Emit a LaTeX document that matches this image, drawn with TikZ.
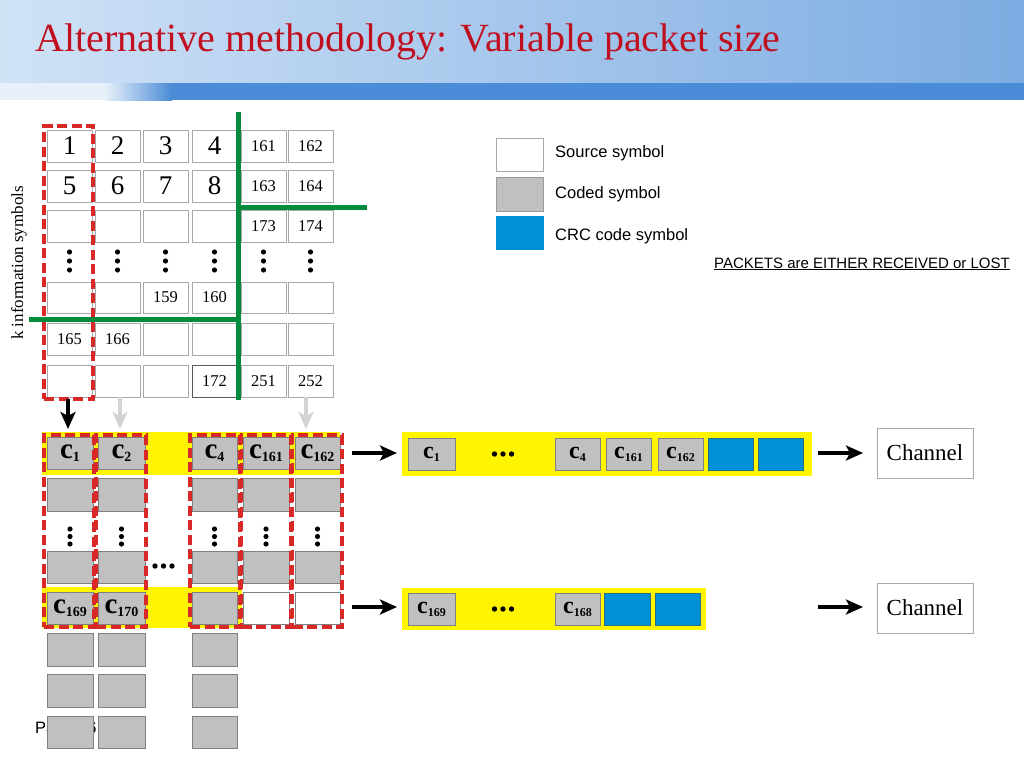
\documentclass[tikz,border=0pt]{standalone}
\usepackage{fontspec}
\setmainfont{Liberation Serif}
\newfontfamily\arialf{Liberation Sans}
\usetikzlibrary{arrows.meta}
\definecolor{titlered}{RGB}{192,16,32}
\definecolor{hdrL}{RGB}{208,226,246}
\definecolor{hdrR}{RGB}{124,172,226}
\definecolor{bandB}{RGB}{74,140,216}
\definecolor{bandL}{RGB}{232,240,249}
\definecolor{gridgray}{RGB}{168,168,168}
\definecolor{codegray}{RGB}{192,192,192}
\definecolor{codeedge}{RGB}{128,128,128}
\definecolor{crcblue}{RGB}{0,144,216}
\definecolor{crcedge}{RGB}{40,110,130}
\definecolor{ylw}{RGB}{255,245,0}
\definecolor{redd}{RGB}{216,40,40}
\definecolor{grn}{RGB}{0,140,60}
\definecolor{lgray}{RGB}{211,211,211}
\newcommand\rbox[7]{%
  \pgfmathsetmacro\rbw{#5-#3}\pgfmathsetmacro\rbh{#6-#4}%
  \node[#2,minimum width=\rbw pt,minimum height=\rbh pt,inner sep=0pt,outer sep=0pt] (#1) at ({(#3+#5)/2},{(#4+#6)/2}) {#7};}
\newcommand\clab[1]{{\fontsize{29}{29}\selectfont\bfseries c}\raisebox{-3pt}{\fontsize{14}{14}\selectfont\bfseries #1}}
\newcommand\plab[1]{{\fontsize{24}{24}\selectfont\bfseries c}\raisebox{-3pt}{\fontsize{12}{12}\selectfont\bfseries #1}}
\begin{document}
\begin{tikzpicture}[x=1pt,y=-1pt,
  gcell/.style={draw=gridgray,line width=0.9pt,fill=white},
  numbig/.style={font=\fontsize{27}{27}\selectfont},
  numsm/.style={font=\fontsize{16.5}{16.5}\selectfont},
  coded/.style={draw=codeedge,line width=0.9pt,fill=codegray},
  wcell/.style={draw=codeedge,line width=0.7pt,fill=white},
  crc/.style={draw=crcedge,line width=0.9pt,fill=crcblue},
  ybar/.style={fill=ylw},
  reddash/.style={draw=redd,line width=3.6pt,dash pattern=on 10pt off 4.5pt},
  grnline/.style={draw=grn,line width=5pt},
  darr/.style={line width=3.2pt,-{Stealth[length=17pt,width=15pt,inset=4pt]}},
  garr/.style={draw=lgray,line width=3.2pt,-{Stealth[length=17pt,width=15pt,inset=4pt]}},
  chbox/.style={draw=gridgray,line width=0.9pt,fill=white,font=\fontsize{23}{23}\selectfont},
  legtxt/.style={font=\arialf\fontsize{16.5}{16.5}\selectfont,anchor=west,inner sep=0pt},
  dot/.style={fill=black}
]
\useasboundingbox (0,0) rectangle (1024,768);
\fill[white] (0,0) rectangle (1024,768);
% header
\shade[left color=hdrL,right color=hdrR] (0,0) rectangle (1024,83);
\fill[bandB] (0,83) rectangle (1024,100);
\fill[bandL] (0,83) rectangle (105,100);
\shade[left color=bandL,right color=bandB] (105,83) rectangle (172,100);
\node[anchor=base west,text=titlered,font=\fontsize{40}{40}\selectfont,inner sep=0pt] (title) at (35,52) {Alternative methodology: Variable packet size};

% footer text (partly hidden)
\node[anchor=base west,font=\arialf\fontsize{16.5}{16.5}\selectfont,inner sep=0pt] (page) at (35,733) {Page 16};

% source grid
\foreach \c/\x/\t/\f in {1/47/1/numbig,2/95/2/numbig,3/143/3/numbig,4/192/4/numbig,5/241/161/numsm,6/288/162/numsm}
  {\rbox{g1\c}{gcell,\f}{\x}{130}{\x+45}{162}{\t}}
\foreach \c/\x/\t/\f in {1/47/5/numbig,2/95/6/numbig,3/143/7/numbig,4/192/8/numbig,5/241/163/numsm,6/288/164/numsm}
  {\rbox{g2\c}{gcell,\f}{\x}{170}{\x+45}{202}{\t}}
\foreach \c/\x/\t in {1/47/{},2/95/{},3/143/{},4/192/{},5/241/173,6/288/174}
  {\rbox{g3\c}{gcell,numsm}{\x}{210}{\x+45}{242}{\t}}
\foreach \c/\x/\t in {1/47/{},2/95/{},3/143/159,4/192/160,5/241/{},6/288/{}}
  {\rbox{g5\c}{gcell,numsm}{\x}{282}{\x+45}{313}{\t}}
\foreach \c/\x/\t in {1/47/165,2/95/166,3/143/{},4/192/{},5/241/{},6/288/{}}
  {\rbox{g6\c}{gcell,numsm}{\x}{323}{\x+45}{355}{\t}}
\foreach \c/\x/\t in {1/47/{},2/95/{},3/143/{},5/241/251,6/288/252}
  {\rbox{g7\c}{gcell,numsm}{\x}{365}{\x+45}{397}{\t}}
\rbox{g74}{gcell,numsm,draw=black!65}{192}{365}{237}{397}{172}
\foreach \x in {69.5,117.5,165.5,214.5,263.5,310.5}
  {\fill[dot] (\x,252) circle (2.6); \fill[dot] (\x,261) circle (2.6); \fill[dot] (\x,270) circle (2.6);}
\node[rotate=90,font=\fontsize{17}{17}\selectfont,inner sep=0pt] (klab) at (19,263) {k information symbols};
% red box and green separators
\rbox{redg}{reddash}{44}{126}{93}{399}{}
\draw[grnline] (238,112) -- (238,400);
\draw[grnline] (238,207) -- (367,207);
\draw[grnline] (29,319) -- (238,319);

% coded grid
\fill[ybar] (42,432) rectangle (340,475);
\fill[ybar] (42,587) rectangle (242,628);
\foreach \c/\xa/\xb/\t in {1/47/93/1,2/98/145/2,4/192/237/4,5/243/289/161,6/295/340/162}
  {\rbox{k1\c}{coded}{\xa}{437}{\xb}{469}{\clab{\t}}
   \rbox{k2\c}{coded}{\xa}{478}{\xb}{511}{}
   \rbox{k4\c}{coded}{\xa}{551}{\xb}{583}{}
   \pgfmathsetmacro\xm{(\xa+\xb)/2}
   \fill[dot] (\xm,529) circle (2.6); \fill[dot] (\xm,536.5) circle (2.6); \fill[dot] (\xm,544) circle (2.6);}
\rbox{k51}{coded}{47}{592}{93}{624}{\clab{169}}
\rbox{k52}{coded}{98}{592}{145}{624}{\clab{170}}
\rbox{k54}{coded}{192}{592}{237}{624}{}
\rbox{k55}{wcell}{243}{592}{289}{624}{}
\rbox{k56}{wcell}{295}{592}{340}{624}{}
\foreach \c/\xa/\xb in {1/47/93,2/98/145,4/192/237}
  {\rbox{k6\c}{coded}{\xa}{633}{\xb}{666}{}
   \rbox{k7\c}{coded}{\xa}{674}{\xb}{707}{}
   \rbox{k8\c}{coded}{\xa}{716}{\xb}{748}{}}
\foreach \x in {155,163.5,172} {\fill[dot] (\x,566) circle (2.7);}
\foreach \c/\xa/\xb in {1/44/94,2/96/146,4/190/240,5/241.5/291,6/292.5/342}
  {\rbox{rc\c}{reddash}{\xa}{435}{\xb}{627}{}}

% arrows grid -> coded
\coordinate (t1) at (68,429);
\coordinate (t2) at (120,429);
\coordinate (t6) at (306,429);
\draw[darr] (68,399) -- (t1);
\draw[garr] (g72.south -| t2) -- (t2);
\draw[garr] (g76.south -| t6) -- (t6);

% packets
\rbox{p1}{ybar}{402}{432}{812}{476}{}
\rbox{q11}{coded}{408}{438}{455}{470}{\plab{1}}
\rbox{q14}{coded}{555}{438}{600}{470}{\plab{4}}
\rbox{q15}{coded}{606}{438}{651}{470}{\plab{161}}
\rbox{q16}{coded}{658}{438}{703}{470}{\plab{162}}
\rbox{b11}{crc}{708}{438}{753}{470}{}
\rbox{b12}{crc}{758}{438}{803}{470}{}
\foreach \x in {494.5,503,511.5} {\fill[dot] (\x,454) circle (2.7);}
\rbox{p2}{ybar}{402}{588}{706}{630}{}
\rbox{q21}{coded}{408}{593}{455}{625}{\plab{169}}
\rbox{q24}{coded}{555}{593}{600}{625}{\plab{168}}
\rbox{b21}{crc}{604}{593}{650}{625}{}
\rbox{b22}{crc}{655}{593}{700}{625}{}
\foreach \x in {494.5,503,511.5} {\fill[dot] (\x,609) circle (2.7);}

\rbox{ch1}{chbox}{877}{428}{973}{478}{Channel}
\rbox{ch2}{chbox}{877}{583}{973}{633}{Channel}
\coordinate (s1) at (352,453);
\coordinate (s2) at (352,607);
\coordinate (e1) at (818,453);
\coordinate (e2) at (818,607);
\draw[darr] (s1) -- ([xshift=-5pt]p1.west |- s1);
\draw[darr] (s2) -- ([xshift=-5pt]p2.west |- s2);
\draw[darr] (e1) -- ([xshift=-14pt]ch1.west |- e1);
\draw[darr] (e2) -- ([xshift=-14pt]ch2.west |- e2);

% legend
\rbox{l1}{wcell,draw=gridgray}{496}{138}{543}{171}{}
\rbox{l2}{coded,draw=codegray!80!black}{496}{177}{543}{211}{}
\rbox{l3}{crc,draw=crcblue}{496}{216}{543}{249}{}
\node[legtxt] (lt1) at (555,153) {Source symbol};
\node[legtxt] (lt2) at (555,194) {Coded symbol};
\node[legtxt] (lt3) at (555,236) {CRC code symbol};
\node[anchor=base east,font=\arialf\fontsize{15}{15}\selectfont,inner sep=0pt] (note) at (1010,268) {\underline{PACKETS are EITHER RECEIVED or LOST}};
\end{tikzpicture}
\end{document}
